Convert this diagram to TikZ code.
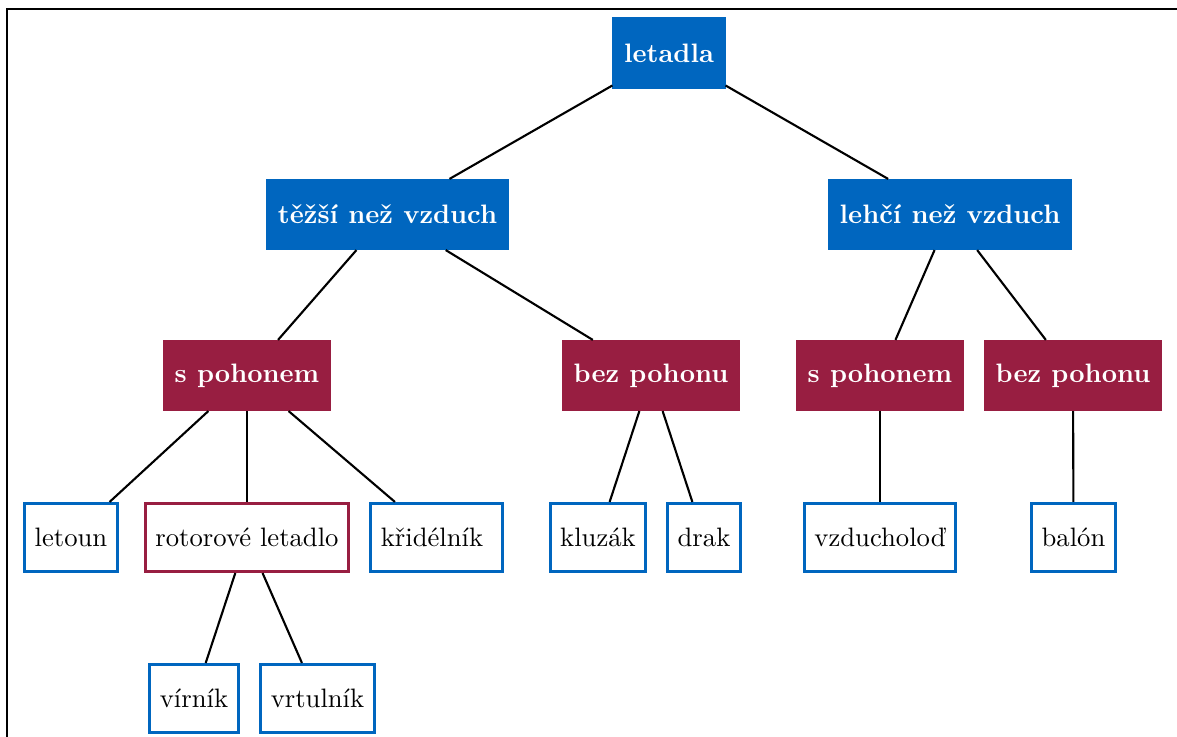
\documentclass[tikz,border=0pt]{standalone}
\usepackage{fontspec}
\definecolor{tblue}{HTML}{0066BF}
\definecolor{tred}{HTML}{981E41}
\begin{document}
\begin{tikzpicture}[x=0.3788pt,y=-0.3788pt,
  box/.style={rectangle,inner xsep=3.8pt,inner ysep=0pt,minimum height=25.7pt,
    line width=1.25pt,font=\fontsize{10.1}{12}\selectfont},
  catblue/.style={box,fill=tblue,draw=tblue,text=white,font=\fontsize{10.1}{12}\selectfont\bfseries},
  catred/.style={box,fill=tred,draw=tred,text=white,font=\fontsize{10.1}{12}\selectfont\bfseries},
  leaf/.style={box,draw=tblue,fill=white,text=black},
  leafred/.style={box,draw=tred,fill=white,text=black},
  link/.style={line width=0.8pt,black}]
  \useasboundingbox (0,0) rectangle (1177,737);
  % frame
  \coordinate (fa) at (7,737);
  \coordinate (fb) at (7,9);
  \coordinate (fc) at (1177,9);
  \draw[line width=0.4pt] (fa) -- (fb) -- (fc);

  % tree levels
  \node[catblue] (root) at (669,53) {letadla};
  \node[catblue] (heavy) at (387.5,214.5) {těžší než vzduch};
  \node[catblue] (light) at (950,214.5) {lehčí než vzduch};

  \node[catred] (hp) at (247,375.5) {s pohonem};
  \node[catred] (hn) at (651,375.5) {bez pohonu};
  \node[catred] (lp) at (880,375.5) {s pohonem};
  \node[catred] (ln) at (1073,375.5) {bez pohonu};

  \node[leaf] (letoun) at (71,537.5) {letoun};
  \node[leafred] (rotor) at (247,537.5) {rotorové letadlo};
  \node[leaf] (kridel) at (436.5,537.5) {křidélník\kern3.4pt};
  \node[leaf] (kluzak) at (598,537.5) {kluzák};
  \node[leaf] (drak) at (704,537.5) {drak};
  \node[leaf] (vzlod) at (880,537.5) {vzducholoď};
  \node[leaf] (balon) at (1073.5,537.5) {balón};

  \node[leaf] (virnik) at (194,698.5) {vírník};
  \node[leaf] (vrtul) at (317.5,698.5) {vrtulník};

  % connectors
  \draw[link] (root) -- (heavy);
  \draw[link] (root) -- (light);
  \draw[link] (heavy) -- (hp);
  \draw[link] (heavy) -- (hn);
  \draw[link] (light) -- (lp);
  \draw[link] (light) -- (ln);
  \draw[link] (hp) -- (letoun);
  \draw[link] (hp) -- (rotor);
  \draw[link] (hp) -- (kridel);
  \draw[link] (hn) -- (kluzak);
  \draw[link] (hn) -- (drak);
  \draw[link] (lp) -- (vzlod);
  \draw[link] (ln) -- (balon);
  \draw[link] (rotor) -- (virnik);
  \draw[link] (rotor) -- (vrtul);
\end{tikzpicture}
\end{document}
